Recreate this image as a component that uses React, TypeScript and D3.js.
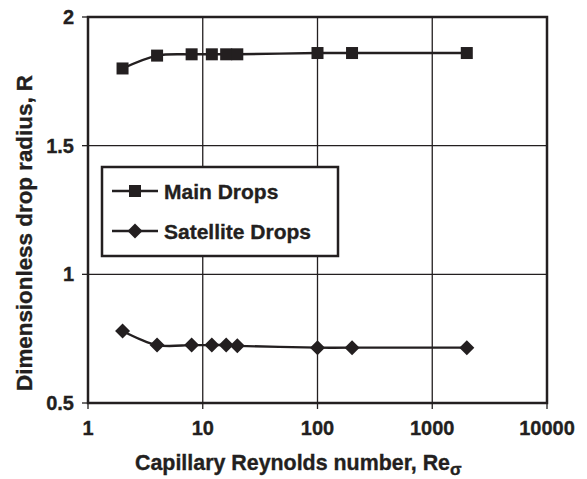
import React from "react";
import * as d3 from "d3";

// Capillary Reynolds number values at which drop radii were measured
const reynolds = [2, 4, 8, 12, 16, 20, 100, 200, 2000];
// Dimensionless radius of the main drops
const mainDrops = [1.8, 1.85, 1.855, 1.855, 1.855, 1.855, 1.86, 1.86, 1.86];
// Dimensionless radius of the satellite drops
const satelliteDrops = [0.78, 0.725, 0.725, 0.725, 0.725, 0.722, 0.715, 0.715, 0.715];

const xTicks = [1, 10, 100, 1000, 10000];
const yTicks = [0.5, 1, 1.5, 2];
const legendLabels = ["Main Drops", "Satellite Drops"];

const W = 587;
const H = 479;
const INK = "#231f20";
const FONT = "'Liberation Sans', Arial, sans-serif";
// a hairline outline makes the bold glyphs read a little heavier
const HEAVY = { stroke: INK, strokeWidth: 0.35 };

export default function App() {
  const left = 88, right = 547, top = 17, bottom = 403;
  const x = d3.scaleLog().domain([1, 10000]).range([left, right]);
  const y = d3.scaleLinear().domain([0.5, 2]).range([bottom, top]);

  const line = d3
    .line<[number, number]>()
    .x((d) => x(d[0]))
    .y((d) => y(d[1]))
    .curve(d3.curveCardinal.tension(0));

  const mainPts = reynolds.map((r, i) => [r, mainDrops[i]] as [number, number]);
  const satPts = reynolds.map((r, i) => [r, satelliteDrops[i]] as [number, number]);

  const square = (cx: number, cy: number, k: string) => (
    <rect key={k} x={cx - 6} y={cy - 6} width={12} height={12} fill={INK} />
  );
  const diamond = (cx: number, cy: number, k: string) => (
    <path
      key={k}
      d={`M${cx},${cy - 7.5}L${cx + 7.5},${cy}L${cx},${cy + 7.5}L${cx - 7.5},${cy}Z`}
      fill={INK}
    />
  );

  const legend = { x: 102, y: 167, w: 236, h: 89 };
  const legendRows = [191, 231];

  return (
    <svg
      width={W}
      height={H}
      style={{ position: "absolute", left: 0, top: 0, background: "#fff" }}
      fontFamily={FONT}
    >
      {/* grid */}
      {xTicks.slice(1, -1).map((t) => (
        <line key={"gx" + t} x1={x(t)} x2={x(t)} y1={top} y2={bottom} stroke={INK} strokeWidth={1.3} />
      ))}
      {yTicks.slice(1, -1).map((t) => (
        <line key={"gy" + t} x1={left} x2={right} y1={y(t)} y2={y(t)} stroke={INK} strokeWidth={1.3} />
      ))}

      {/* frame */}
      <rect x={left} y={top} width={right - left} height={bottom - top} fill="none" stroke={INK} strokeWidth={2.5} />

      {/* ticks */}
      {xTicks.map((t) => (
        <line key={"tx" + t} x1={x(t)} x2={x(t)} y1={bottom} y2={bottom + 6} stroke={INK} strokeWidth={1.3} />
      ))}
      {yTicks.map((t) => (
        <line key={"ty" + t} x1={left - 6} x2={left} y1={y(t)} y2={y(t)} stroke={INK} strokeWidth={1.3} />
      ))}

      {/* tick labels */}
      {xTicks.map((t) => (
        <text key={"lx" + t} x={x(t)} y={435} textAnchor="middle" fontSize={20} fontWeight="bold" fill={INK} {...HEAVY}>
          {t}
        </text>
      ))}
      {yTicks.map((t) => (
        <text key={"ly" + t} x={74} y={y(t) + 7} textAnchor="end" fontSize={20} fontWeight="bold" fill={INK} {...HEAVY}>
          {t}
        </text>
      ))}

      {/* series */}
      <path d={line(mainPts) || ""} fill="none" stroke={INK} strokeWidth={2.4} />
      <path d={line(satPts) || ""} fill="none" stroke={INK} strokeWidth={2.4} />
      {mainPts.map((p, i) => square(x(p[0]), y(p[1]), "m" + i))}
      {satPts.map((p, i) => diamond(x(p[0]), y(p[1]), "s" + i))}

      {/* legend */}
      <rect x={legend.x} y={legend.y} width={legend.w} height={legend.h} fill="#fff" stroke={INK} strokeWidth={2.5} />
      {legendLabels.map((lab, i) => (
        <g key={lab}>
          <line x1={112} x2={158} y1={legendRows[i]} y2={legendRows[i]} stroke={INK} strokeWidth={2.4} />
          {i === 0 ? square(135, legendRows[i], "lm") : diamond(135, legendRows[i], "ls")}
          <text x={164} y={legendRows[i] + 7.5} fontSize={21} fontWeight="bold" fill={INK} {...HEAVY}>
            {lab}
          </text>
        </g>
      ))}

      {/* axis titles */}
      <text x={135} y={470} fontSize={21.4} fontWeight="bold" fill={INK} {...HEAVY}>
        Capillary Reynolds number, Re
        <tspan dy={5} fontSize={17}>σ</tspan>
      </text>
      <text
        transform={`translate(32,233) rotate(-90)`}
        textAnchor="middle"
        fontSize={22.4}
        fontWeight="bold"
        fill={INK}
        {...HEAVY}
      >
        Dimensionless drop radius, R
      </text>
    </svg>
  );
}
